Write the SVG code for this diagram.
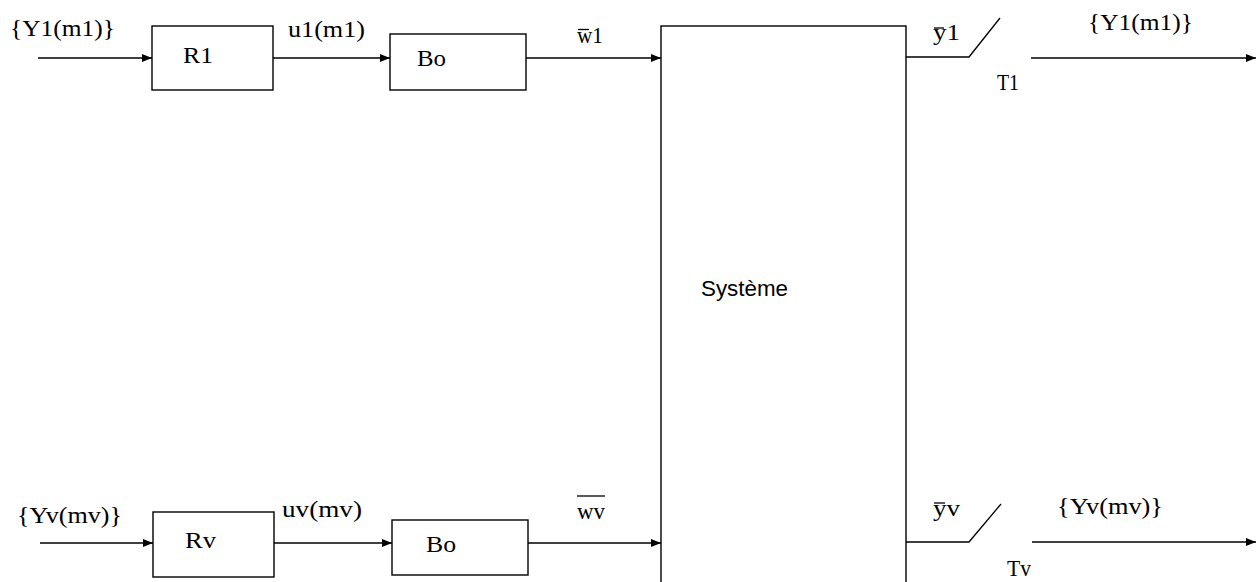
<svg xmlns="http://www.w3.org/2000/svg" width="1256" height="582" viewBox="0 0 1256 582">
<style>
.box{fill:none;stroke:#000;stroke-width:1.4}
.ln{fill:none;stroke:#000;stroke-width:1.3}
.ar{fill:none;stroke:#000;stroke-width:1.3;marker-end:url(#ah)}
.t{font-family:"Liberation Serif","Times New Roman",serif;font-size:24px;fill:#000}
.s{font-family:"Liberation Sans",Arial,sans-serif;font-size:22px;fill:#000}
</style>
<defs>
<marker id="ah" viewBox="0 0 10 8" refX="10" refY="4" markerWidth="10" markerHeight="8" markerUnits="userSpaceOnUse" orient="auto">
<path d="M0,0 L10,4 L0,8 Z" fill="#000"/>
</marker>
</defs>
<rect width="1256" height="582" fill="#fff"/>

<g id="R1"><rect class="box" x="152" y="26" width="121" height="64"/><text class="t" x="183" y="63" textLength="30" lengthAdjust="spacingAndGlyphs">R1</text></g>
<g id="Bo1"><rect class="box" x="390" y="34" width="136" height="56"/><text class="t" x="417" y="66" textLength="29" lengthAdjust="spacingAndGlyphs">Bo</text></g>
<g id="Rv"><rect class="box" x="153" y="512" width="121" height="65"/><text class="t" x="185" y="548" textLength="31" lengthAdjust="spacingAndGlyphs">Rv</text></g>
<g id="Bov"><rect class="box" x="392" y="520" width="136" height="55"/><text class="t" x="426" y="552" textLength="30" lengthAdjust="spacingAndGlyphs">Bo</text></g>
<g id="Systeme"><rect class="box" x="661" y="26" width="245" height="600"/><text class="s" x="701" y="296" textLength="87" lengthAdjust="spacingAndGlyphs">Système</text></g>

<g id="connectors">
<line class="ar" x1="38" y1="58" x2="152" y2="58"/>
<line class="ar" x1="273" y1="58" x2="390" y2="58"/>
<line class="ar" x1="526" y1="58" x2="661" y2="58"/>
<polyline class="ln" points="906,57 969,57 1000,18"/>
<line class="ar" x1="1031" y1="58" x2="1256" y2="58"/>

<line class="ar" x1="40" y1="543" x2="153" y2="543"/>
<line class="ar" x1="274" y1="543" x2="392" y2="543"/>
<line class="ar" x1="528" y1="543" x2="661" y2="543"/>
<polyline class="ln" points="906,542 969,542 1001,504"/>
<line class="ar" x1="1032" y1="542" x2="1256" y2="542"/>
</g>

<g id="labels">
<text class="t" x="10" y="36" textLength="105" lengthAdjust="spacingAndGlyphs">{Y1(m1)}</text>
<text class="t" x="288" y="37" textLength="77" lengthAdjust="spacingAndGlyphs">u1(m1)</text>
<text class="t" x="577" y="43" textLength="26" lengthAdjust="spacingAndGlyphs">w1</text>
<line class="ln" x1="578" y1="29.5" x2="589" y2="29.5"/>
<text class="t" x="933" y="40" textLength="27" lengthAdjust="spacingAndGlyphs">y1</text>
<line class="ln" x1="934" y1="28" x2="944" y2="28"/>
<text class="t" x="1088" y="30" textLength="105" lengthAdjust="spacingAndGlyphs">{Y1(m1)}</text>
<text class="t" x="997" y="90" textLength="22" lengthAdjust="spacingAndGlyphs">T1</text>

<text class="t" x="17" y="523" textLength="105" lengthAdjust="spacingAndGlyphs">{Yv(mv)}</text>
<text class="t" x="282" y="517" textLength="80" lengthAdjust="spacingAndGlyphs">uv(mv)</text>
<text class="t" x="577" y="519" textLength="28" lengthAdjust="spacingAndGlyphs">wv</text>
<line class="ln" x1="577" y1="496" x2="605" y2="496"/>
<text class="t" x="933" y="516" textLength="27" lengthAdjust="spacingAndGlyphs">yv</text>
<line class="ln" x1="934" y1="503" x2="945" y2="503"/>
<text class="t" x="1057" y="514" textLength="106" lengthAdjust="spacingAndGlyphs">{Yv(mv)}</text>
<text class="t" x="1007" y="576" textLength="24" lengthAdjust="spacingAndGlyphs">Tv</text>
</g>
</svg>
